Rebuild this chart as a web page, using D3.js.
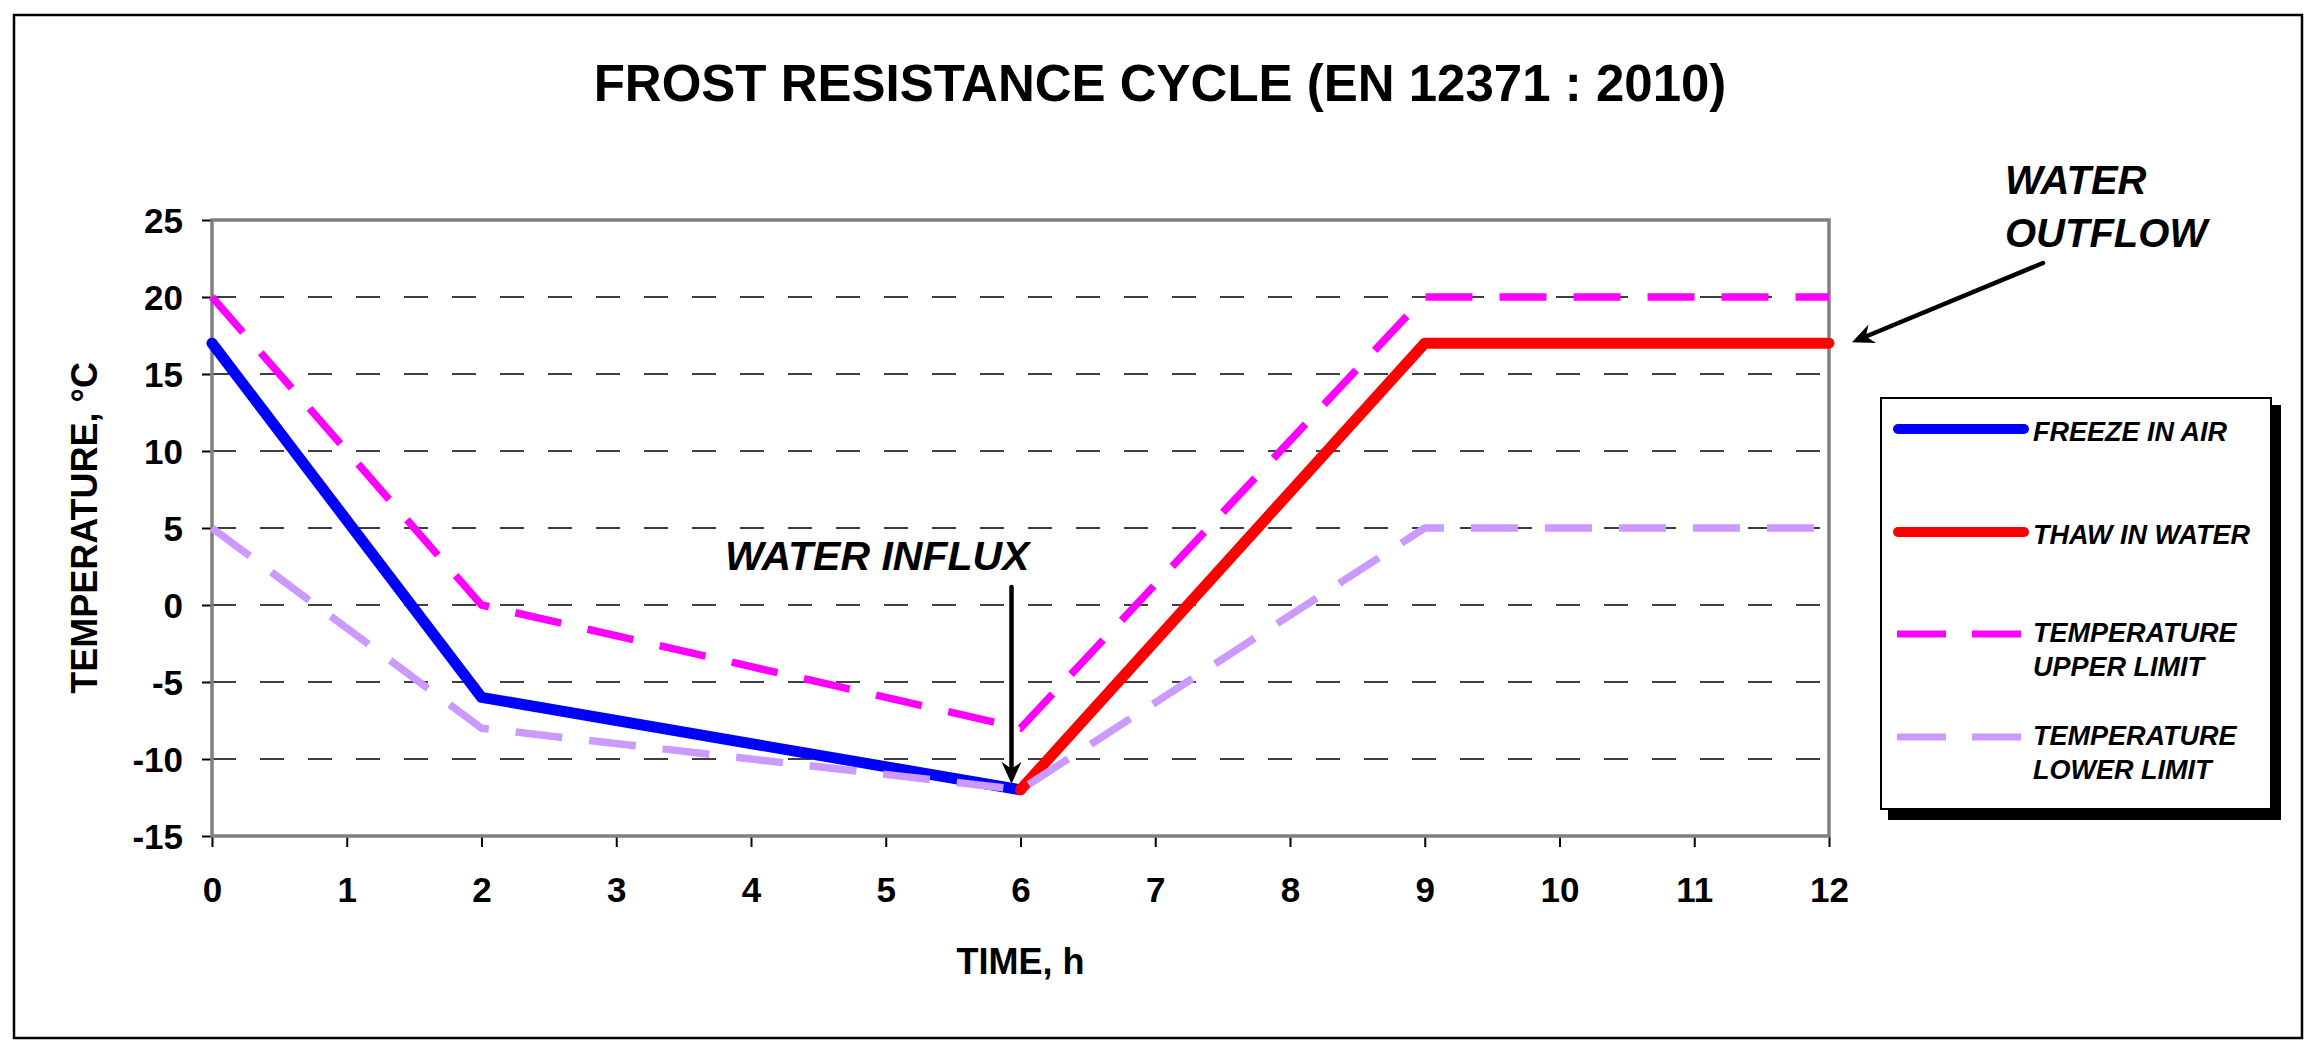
<!DOCTYPE html>
<html>
<head>
<meta charset="utf-8">
<script src="https://cdn.jsdelivr.net/npm/d3@7"></script>
<style>
  body { margin: 0; background: #fff; }
  svg { display: block; font-family: Arial, "Liberation Sans", sans-serif; }
  .tick text { font-size: 35px; font-weight: bold; fill: #000; }
  .tick line { stroke: #000; stroke-width: 2; }
</style>
</head>
<body>
<div id="chart"></div>
<script>
// values
const chartTitle = "FROST RESISTANCE CYCLE (EN 12371 : 2010)";
const xTitle = "TIME, h";
const yTitle = "TEMPERATURE, °C";

const xTickValues = [0, 1, 2, 3, 4, 5, 6, 7, 8, 9, 10, 11, 12];
const yTickValues = [-15, -10, -5, 0, 5, 10, 15, 20, 25];
const gridValues = [-10, -5, 0, 5, 10, 15, 20];

const freezeTime = [0, 2, 6];
const freezeTemp = [17, -6, -12];
const thawTime = [6, 9, 12];
const thawTemp = [-12, 17, 17];
const limitTime = [0, 2, 6, 9, 12];
const upperLimit = [20, 0, -8, 20, 20];
const lowerLimit = [5, -8, -12, 5, 5];

const seriesNames = ["FREEZE IN AIR", "THAW IN WATER", "TEMPERATURE\nUPPER LIMIT", "TEMPERATURE\nLOWER LIMIT"];
const influxLabel = "WATER INFLUX";
const outflowLabel = ["WATER", "OUTFLOW"];

(function() {
  let W = 2319, H = 1057;
  let plot = { left: 212, right: 1829, top: 220, bottom: 836 };

  let svg = d3
    .select("#chart")
    .append("svg")
    .attr("width", W)
    .attr("height", H);

  // outer chart frame
  svg.append("rect")
    .attr("x", 14).attr("y", 15)
    .attr("width", 2288).attr("height", 1023)
    .attr("fill", "#fff")
    .attr("stroke", "#000")
    .attr("stroke-width", 2.5);

  let x = d3.scaleLinear().domain([0, 12]).range([plot.left, plot.right]);
  let y = d3.scaleLinear().domain([-15, 25]).range([plot.bottom, plot.top]);

  svg.append("text")
    .attr("x", 1160).attr("y", 101)
    .attr("text-anchor", "middle")
    .attr("font-size", 51).attr("font-weight", "bold")
    .text(chartTitle);

  // dashed gridlines
  svg.append("g")
    .selectAll("line")
    .data(gridValues)
    .enter()
    .append("line")
    .attr("x1", plot.left).attr("x2", plot.right)
    .attr("y1", d => y(d)).attr("y2", d => y(d))
    .attr("stroke", "#000")
    .attr("stroke-width", 1.5)
    .attr("stroke-dasharray", "24,24");

  // axes (plain hyphen for negatives, like the original)
  let fmt = d => String(d);
  let xAxis = d3.axisBottom(x).tickValues(xTickValues).tickFormat(fmt).tickSize(11).tickPadding(30);
  let yAxis = d3.axisLeft(y).tickValues(yTickValues).tickFormat(fmt).tickSize(10).tickPadding(19);

  svg.append("g")
    .attr("transform", "translate(0," + plot.bottom + ")")
    .call(xAxis)
    .call(g => g.select(".domain").remove());

  svg.append("g")
    .attr("transform", "translate(" + plot.left + ",0)")
    .call(yAxis)
    .call(g => g.select(".domain").remove())
    .selectAll("text")
    .attr("dy", "0.35em");

  svg.selectAll(".tick text").attr("font-family", null).attr("font-size", null);

  // plot area border
  svg.append("rect")
    .attr("x", plot.left).attr("y", plot.top)
    .attr("width", plot.right - plot.left)
    .attr("height", plot.bottom - plot.top)
    .attr("fill", "none")
    .attr("stroke", "#808080")
    .attr("stroke-width", 3.5);

  svg.append("text")
    .attr("x", (plot.left + plot.right) / 2).attr("y", 974)
    .attr("text-anchor", "middle")
    .attr("font-size", 36).attr("font-weight", "bold")
    .text(xTitle);

  svg.append("text")
    .attr("transform", "translate(97," + (plot.top + plot.bottom) / 2 + ") rotate(-90)")
    .attr("text-anchor", "middle")
    .attr("font-size", 36).attr("font-weight", "bold")
    .text(yTitle);

  // series
  let line = d3.line().x(d => x(d[0])).y(d => y(d[1]));
  let zip = (a, b) => a.map((v, i) => [v, b[i]]);

  let series = [
    { pts: zip(freezeTime, freezeTemp), color: "#0000FF", width: 11, dash: null },
    { pts: zip(thawTime, thawTemp), color: "#FF0000", width: 11, dash: null },
    { pts: zip(limitTime, upperLimit), color: "#FF00FF", width: 7.5, dash: "47,27" },
    { pts: zip(limitTime, lowerLimit), color: "#CC99FF", width: 7.5, dash: "47,27" }
  ];

  svg.append("g")
    .selectAll("path")
    .data(series)
    .enter()
    .append("path")
    .attr("d", d => line(d.pts))
    .attr("fill", "none")
    .attr("stroke", d => d.color)
    .attr("stroke-width", d => d.width)
    .attr("stroke-linejoin", "round")
    .attr("stroke-linecap", d => (d.dash ? "butt" : "round"))
    .attr("stroke-dasharray", d => d.dash);

  // annotations
  function arrow(x1, y1, x2, y2) {
    let a = Math.atan2(y2 - y1, x2 - x1);
    let len = 22, half = 10, notch = 15;
    let bx = x2 - Math.cos(a) * len, by = y2 - Math.sin(a) * len;
    let nx = x2 - Math.cos(a) * notch, ny = y2 - Math.sin(a) * notch;
    let px = -Math.sin(a) * half, py = Math.cos(a) * half;
    svg.append("line")
      .attr("x1", x1).attr("y1", y1).attr("x2", nx).attr("y2", ny)
      .attr("stroke", "#000").attr("stroke-width", 4.5)
      .attr("stroke-linecap", "round");
    svg.append("path")
      .attr("d", "M" + x2 + "," + y2 + "L" + (bx + px) + "," + (by + py) +
        "L" + nx + "," + ny + "L" + (bx - px) + "," + (by - py) + "Z")
      .attr("fill", "#000");
  }

  svg.append("text")
    .attr("x", 725).attr("y", 570)
    .attr("font-size", 41).attr("font-weight", "bold").attr("font-style", "italic")
    .text(influxLabel);
  arrow(x(6) - 9, 587, x(6) - 9, y(-12) - 6);

  svg.append("g")
    .selectAll("text")
    .data(outflowLabel)
    .enter()
    .append("text")
    .attr("x", 2005)
    .attr("y", (d, i) => 194 + i * 53)
    .attr("font-size", 40).attr("font-weight", "bold").attr("font-style", "italic")
    .text(d => d);
  arrow(2043, 263, x(12) + 23, y(17) - 1);

  // legend
  let lg = { x: 1881, y: 398, w: 390, h: 411 };
  svg.append("rect")
    .attr("x", lg.x + 7).attr("y", lg.y + 7)
    .attr("width", lg.w + 3).attr("height", lg.h + 4)
    .attr("fill", "#000");
  svg.append("rect")
    .attr("x", lg.x).attr("y", lg.y)
    .attr("width", lg.w).attr("height", lg.h)
    .attr("fill", "#fff")
    .attr("stroke", "#000")
    .attr("stroke-width", 2);

  let rows = [429, 532, 634, 737];
  let items = svg.append("g")
    .selectAll("g")
    .data(series)
    .enter()
    .append("g")
    .attr("transform", (d, i) => "translate(0," + rows[i] + ")");

  items.append("line")
    .attr("x1", d => (d.dash ? 1897 : 1898))
    .attr("x2", d => (d.dash ? 2021 : 2024))
    .attr("stroke", d => d.color)
    .attr("stroke-width", d => (d.dash ? 7 : 10))
    .attr("stroke-linecap", d => (d.dash ? "butt" : "round"))
    .attr("stroke-dasharray", d => (d.dash ? "49,26" : null));

  items.each(function(d, i) {
    let lines = seriesNames[i].split("\n");
    d3.select(this)
      .selectAll("text")
      .data(lines)
      .enter()
      .append("text")
      .attr("x", 2033)
      .attr("y", (t, j) => (lines.length == 1 ? 12 : 8 + j * 34))
      .attr("font-size", 27).attr("font-weight", "bold").attr("font-style", "italic")
      .text(t => t);
  });
})();
</script>
</body>
</html>
